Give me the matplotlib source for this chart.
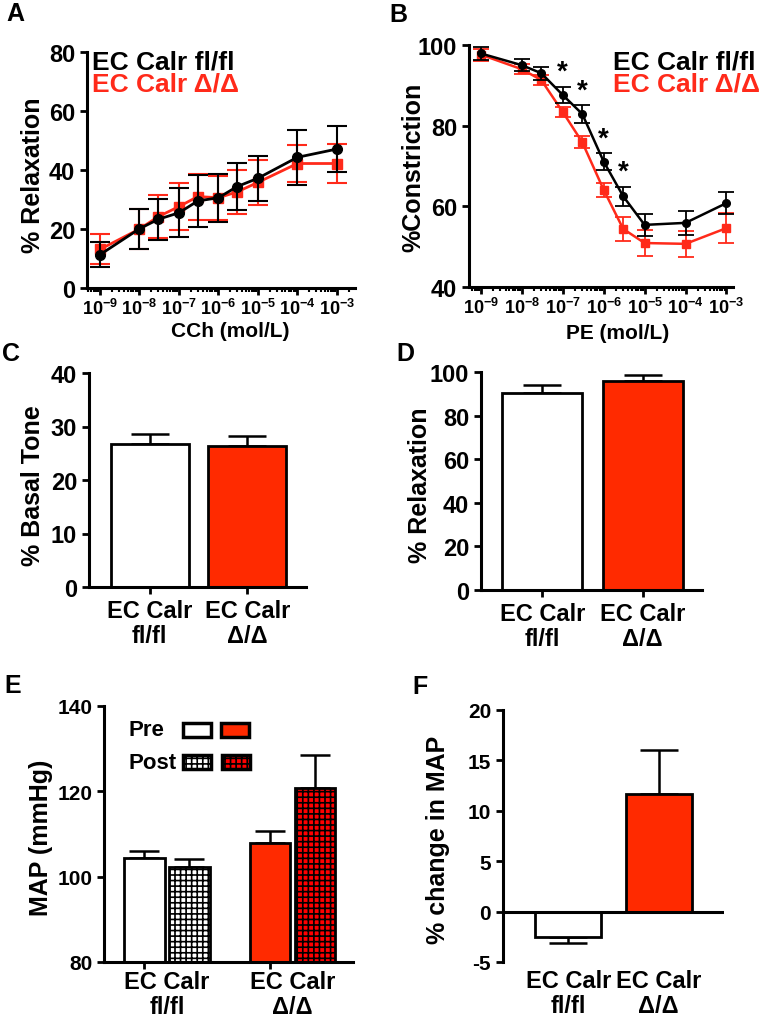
import numpy as np
import matplotlib
matplotlib.use("Agg")
import matplotlib.pyplot as plt
from matplotlib.patches import Rectangle
from matplotlib.ticker import LogLocator, NullFormatter

plt.rcParams['font.family'] = ['Liberation Sans', 'DejaVu Sans']
plt.rcParams['font.weight'] = 'bold'
plt.rcParams['axes.labelweight'] = 'bold'
plt.rcParams['mathtext.fontset'] = 'custom'
plt.rcParams['mathtext.rm'] = 'Liberation Sans:bold'
plt.rcParams['mathtext.bf'] = 'Liberation Sans:bold'
plt.rcParams['axes.unicode_minus'] = False
plt.rcParams['hatch.linewidth'] = 1.2

# ---- data ----
conc = [1e-9, 1e-8, 3e-8, 1e-7, 3e-7, 1e-6, 3e-6, 1e-5, 1e-4, 1e-3]
decade_labels = [r'$10^{-9}$', r'$10^{-8}$', r'$10^{-7}$', r'$10^{-6}$',
                 r'$10^{-5}$', r'$10^{-4}$', r'$10^{-3}$']

cch_fl = [11.3, 20.1, 23.3, 25.5, 29.5, 30.6, 34.4, 37.2, 44.3, 47.1]
cch_fl_err = [4.3, 6.8, 7.0, 8.3, 8.8, 8.2, 7.9, 7.6, 9.3, 7.8]
cch_dd = [13.1, 20.0, 24.2, 27.6, 31.0, 30.6, 32.6, 35.8, 42.2, 42.2]
cch_dd_err = [5.1, 6.8, 7.2, 8.0, 7.8, 7.5, 7.5, 7.5, 6.4, 6.5]

pe_fl = [97.9, 95.0, 93.0, 87.6, 82.9, 71.1, 62.5, 55.4, 55.9, 60.8]
pe_fl_err = [1.5, 1.5, 1.6, 2.1, 2.3, 2.2, 2.4, 2.7, 2.9, 2.8]
pe_dd = [97.6, 94.0, 91.3, 83.4, 75.9, 64.1, 54.4, 50.9, 50.7, 54.6]
pe_dd_err = [1.5, 1.2, 1.2, 1.3, 1.5, 1.7, 2.9, 3.2, 3.3, 3.7]
pe_sig = [3, 4, 5, 6]

groups = ['EC Calr\nfl/fl', 'EC Calr\nΔ/Δ']
basal = [26.7, 26.4]
basal_err = [1.9, 1.85]
relax = [90.3, 95.9]
relax_err = [3.6, 2.6]
map_pre = [104.35, 107.8]
map_pre_err = [1.6, 3.0]
map_post = [102.2, 120.8]
map_post_err = [1.9, 7.6]
map_change = [-2.54, 11.7]
map_change_err = [0.6, 4.35]

RED_LINE = '#ff2a1a'
RED_BAR = '#ff2a00'
RED_HATCH = '#ff0000'

fig = plt.figure(figsize=(7.6, 10.2), dpi=100)
W, H = 760.0, 1020.0


def add_ax(l, r, t, b):
    return fig.add_axes([l / W, 1 - b / H, (r - l) / W, (b - t) / H])


def style(ax, fs=17):
    for s in ['top', 'right']:
        ax.spines[s].set_visible(False)
    for s in ['left', 'bottom']:
        ax.spines[s].set_linewidth(2.2)
    ax.tick_params(width=2, length=5, labelsize=fs, direction='out')


def style_log(ax):
    ax.set_xscale('log')
    ax.xaxis.set_minor_locator(LogLocator(base=10, subs=np.arange(2, 10), numticks=20))
    ax.xaxis.set_minor_formatter(NullFormatter())
    ax.set_xticks([10.0 ** k for k in range(-9, -2)])
    ax.set_xticklabels(decade_labels, fontsize=13)
    ax.tick_params(axis='x', which='major', length=5, width=2, pad=2)
    ax.tick_params(axis='x', which='minor', length=3, width=1.5)


# ---- A ----
axA = add_ax(87, 355, 53, 289)
style(axA, 17)
style_log(axA)
axA.errorbar(conc, cch_dd, yerr=cch_dd_err, color=RED_LINE, marker='s', ms=6.5,
             lw=2, capsize=7, capthick=1.5, elinewidth=1.5, zorder=2)
axA.errorbar(conc, cch_fl, yerr=cch_fl_err, color='black', marker='o', ms=7,
             lw=2, capsize=7, capthick=1.5, elinewidth=1.5, zorder=3)
axA.set_xlim(10 ** -9.33, 10 ** -2.54)
axA.set_ylim(0, 80)
axA.set_yticks([0, 20, 40, 60, 80])
axA.set_ylabel('% Relaxation', fontsize=18)
axA.yaxis.set_label_coords(-0.157, 0.48)
axA.set_xlabel('CCh (mol/L)', fontsize=15)
axA.xaxis.set_label_coords(0.535, -0.14)
fig.text(92 / W, 1 - 63 / H, 'EC Calr fl/fl', fontsize=19, color='black', va='center')
fig.text(92 / W, 1 - 85 / H, 'EC Calr Δ/Δ', fontsize=19, color=RED_LINE, va='center')

# ---- B ----
axB = add_ax(469, 733, 46, 288)
style(axB, 17)
style_log(axB)
axB.errorbar(conc, pe_dd, yerr=pe_dd_err, color=RED_LINE, marker='s', ms=5.5,
             lw=1.8, capsize=6, capthick=1.3, elinewidth=1.3, zorder=2)
axB.errorbar(conc, pe_fl, yerr=pe_fl_err, color='black', marker='o', ms=5.5,
             lw=1.8, capsize=6, capthick=1.3, elinewidth=1.3, zorder=3)
for i in pe_sig:
    axB.text(conc[i], pe_fl[i] + pe_fl_err[i] + 3.6, '*', fontsize=20,
             ha='center', va='center')
axB.set_xlim(10 ** -9.29, 10 ** -2.84)
axB.set_ylim(40, 100)
axB.set_yticks([40, 60, 80, 100])
axB.set_ylabel('%Constriction', fontsize=18)
axB.yaxis.set_label_coords(-0.167, 0.5)
axB.set_xlabel('PE (mol/L)', fontsize=15)
axB.xaxis.set_label_coords(0.564, -0.15)
fig.text(613 / W, 1 - 63 / H, 'EC Calr fl/fl', fontsize=19, color='black', va='center')
fig.text(613 / W, 1 - 85 / H, 'EC Calr Δ/Δ', fontsize=19, color=RED_LINE, va='center')


def simple_bars(ax, vals, errs, width=0.8):
    x = np.arange(len(vals))
    ax.bar(x, vals, width=width, color=['white', RED_BAR], edgecolor='black',
           linewidth=2, zorder=2)
    for xi, v, e in zip(x, vals, errs):
        yerr = [[0], [e]] if v >= 0 else [[e], [0]]
        ax.errorbar(xi, v, yerr=yerr, color='black', capsize=14, capthick=1.8,
                    elinewidth=1.8, zorder=1)
    ax.set_xticks(x)
    ax.set_xticklabels(groups, fontsize=17, linespacing=1.1)
    return x


# ---- C ----
axC = add_ax(89, 306, 374, 588)
style(axC, 17)
simple_bars(axC, basal, basal_err)
axC.set_xlim(-0.62, 1.6)
axC.set_ylim(0, 40)
axC.set_yticks([0, 10, 20, 30, 40])
axC.set_ylabel('% Basal Tone', fontsize=18)
axC.yaxis.set_label_coords(-0.203, 0.477)

# ---- D ----
axD = add_ax(481, 702, 373, 591)
style(axD, 17)
simple_bars(axD, relax, relax_err)
axD.set_xlim(-0.61, 1.59)
axD.set_ylim(0, 100)
axD.set_yticks([0, 20, 40, 60, 80, 100])
axD.set_ylabel('% Relaxation', fontsize=18)
axD.yaxis.set_label_coords(-0.222, 0.486)

# ---- E ----
axE = add_ax(104, 353, 707, 963)
style(axE, 15)
centers = np.array([0.0, 2.78])
pre_x = centers - 0.5
post_x = centers + 0.5
axE.bar(pre_x, map_pre, width=0.9, color=['white', RED_BAR],
        edgecolor='black', linewidth=2, zorder=2)
axE.bar(post_x, map_post, width=0.9, color=['white', RED_HATCH],
        edgecolor='black', linewidth=2, hatch='+++', zorder=2)
for xs, vals, errs in [(pre_x, map_pre, map_pre_err), (post_x, map_post, map_post_err)]:
    axE.errorbar(xs, vals, yerr=[np.zeros(len(errs)), errs], fmt='none',
                 ecolor='black', capsize=11, capthick=1.8, elinewidth=1.8, zorder=1)
axE.set_xlim(-1.39, 4.12)
axE.set_ylim(80, 140)
axE.set_yticks([80, 100, 120, 140])
axE.set_xticks(centers)
axE.set_xticklabels(groups, fontsize=17, linespacing=1.1)
axE.tick_params(axis='x', which='major', length=0, pad=6)
axE.set_xticks(pre_x, minor=True)
axE.tick_params(axis='x', which='minor', length=5, width=2)
axE.set_ylabel('MAP (mmHg)', fontsize=18)
axE.yaxis.set_label_coords(-0.205, 0.49)

# legend for E
axE.text(0.10, 0.91, 'Pre', transform=axE.transAxes, fontsize=16, va='center')
axE.text(0.10, 0.78, 'Post', transform=axE.transAxes, fontsize=16, va='center')
leg_boxes = [
    (0.317, 0.877, 'white', None),
    (0.470, 0.877, RED_BAR, None),
    (0.317, 0.752, 'white', '+++'),
    (0.474, 0.752, RED_HATCH, '+++'),
]
for bx, by, fc, ht in leg_boxes:
    axE.add_patch(Rectangle((bx, by), 0.113, 0.058, transform=axE.transAxes,
                            facecolor=fc, edgecolor='black', linewidth=2.5,
                            hatch=ht, clip_on=False, zorder=5))

# ---- F ----
axF = add_ax(503, 724, 711, 963)
style(axF, 15)
axF.spines['bottom'].set_visible(False)
simple_bars(axF, map_change, map_change_err, width=0.73)
axF.axhline(0, color='black', lw=2.2, zorder=3)
axF.set_xlim(-0.72, 1.72)
axF.set_ylim(-5, 20)
axF.set_yticks([-5, 0, 5, 10, 15, 20])
axF.set_yticklabels(['-5', '0', '5', '10', '15', '20'])
axF.tick_params(axis='x', length=0, pad=5)
axF.set_ylabel('% change in MAP', fontsize=18)
axF.yaxis.set_label_coords(-0.24, 0.49)

# panel letters
for letter, px, py in [('A', 6, 14), ('B', 389, 15), ('C', 2, 354),
                       ('D', 396, 354), ('E', 4, 686), ('F', 412, 687)]:
    fig.text(px / W, 1 - py / H, letter, fontsize=18, va='center', ha='left')

fig.savefig('out.png', dpi=100)
